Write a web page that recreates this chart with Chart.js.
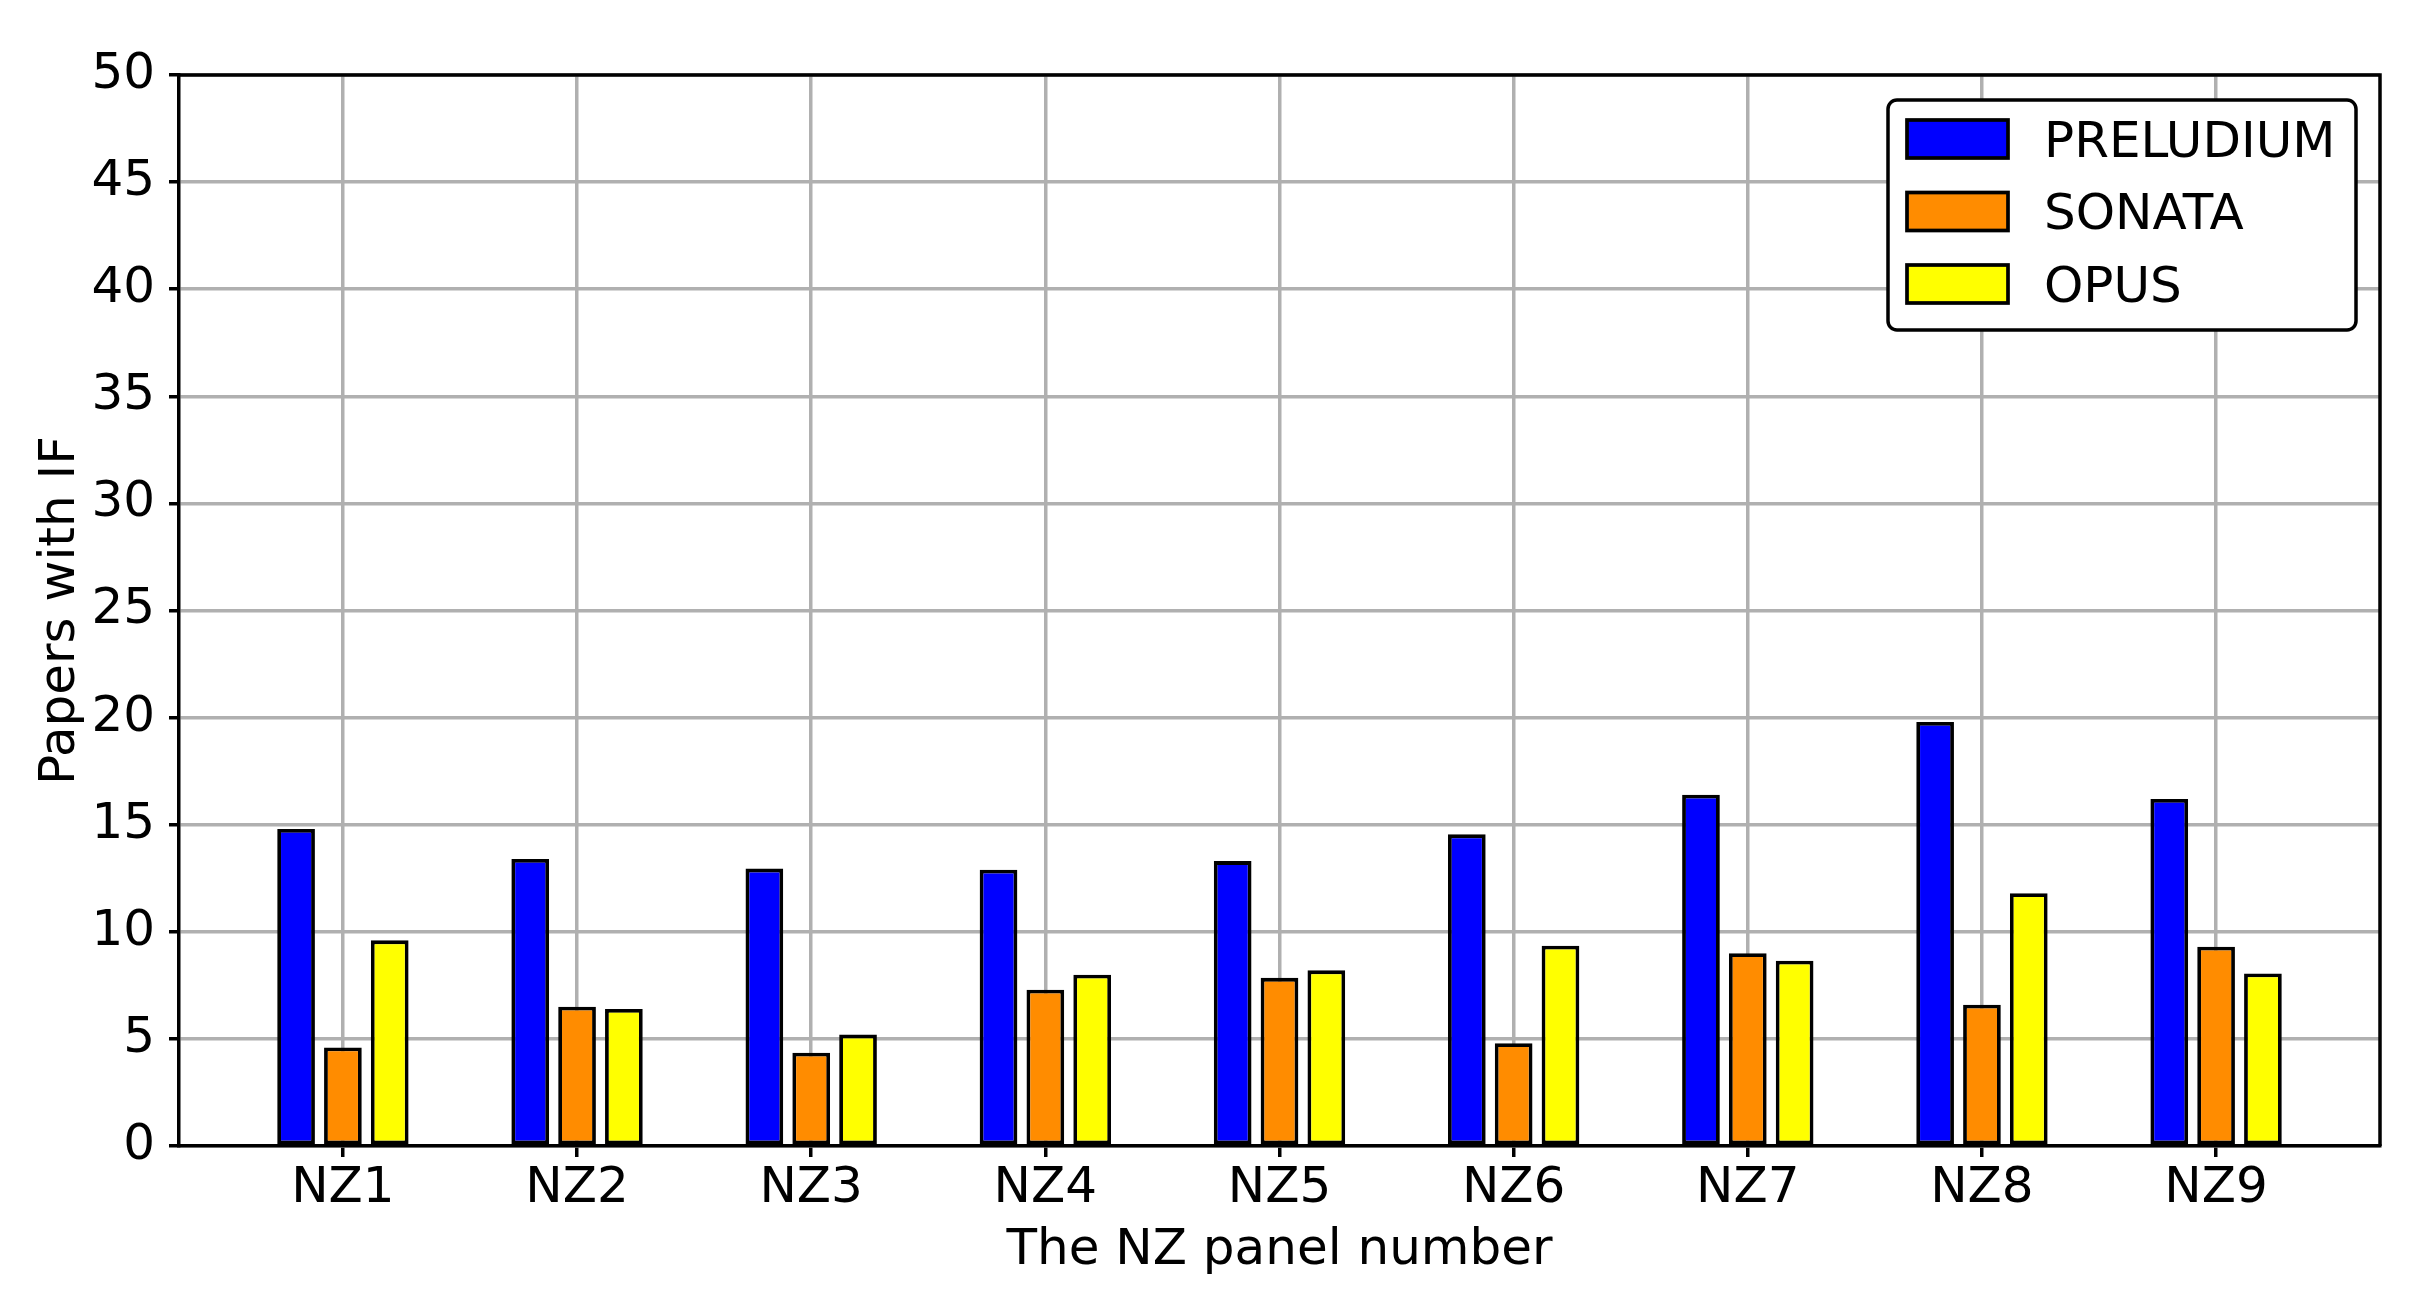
<!DOCTYPE html>
<html>
<head>
<meta charset="utf-8">
<script src="https://cdn.jsdelivr.net/npm/chart.js"></script>
<style>
  html, body { margin: 0; padding: 0; background: #fff; }
  #wrap { width: 2428px; height: 1302px; }
</style>
</head>
<body>
<div id="wrap"><canvas id="myChart" width="2428" height="1302"></canvas></div>
<script>
// values
var categories = ['NZ1', 'NZ2', 'NZ3', 'NZ4', 'NZ5', 'NZ6', 'NZ7', 'NZ8', 'NZ9'];
var preludium = [14.8, 13.4, 12.95, 12.9, 13.3, 14.55, 16.4, 19.8, 16.2];
var sonata = [4.6, 6.5, 4.35, 7.3, 7.85, 4.8, 9.0, 6.6, 9.3];
var opus = [9.6, 6.4, 5.2, 8.0, 8.2, 9.35, 8.65, 11.8, 8.05];
var yTicks = [0, 5, 10, 15, 20, 25, 30, 35, 40, 45, 50];

function toPoints(arr) {
  return arr.map(function (v, i) { return { x: i, y: v }; });
}

Chart.defaults.font.family = '"DejaVu Sans", sans-serif';
Chart.defaults.font.size = 50;
Chart.defaults.color = '#000';

// top + right spines and the boxed legend
var framePlugin = {
  id: 'frame',
  afterDraw: function (chart) {
    var ctx = chart.ctx;
    var a = chart.chartArea;
    ctx.save();
    ctx.strokeStyle = '#000';
    ctx.lineWidth = 3.5;
    ctx.beginPath();
    ctx.moveTo(a.left, a.top);
    ctx.lineTo(a.right, a.top);
    ctx.lineTo(a.right, a.bottom);
    ctx.stroke();

    // legend
    var w = 468, h = 230;
    var x0 = a.right - 24 - w, y0 = a.top + 25;
    ctx.beginPath();
    ctx.roundRect(x0, y0, w, h, 9);
    ctx.fillStyle = '#fff';
    ctx.fill();
    ctx.lineWidth = 3.5;
    ctx.stroke();
    ctx.font = '50px "DejaVu Sans"';
    ctx.textBaseline = 'middle';
    ctx.textAlign = 'left';
    chart.data.datasets.forEach(function (ds, i) {
      var cy = y0 + 39 + i * 72.5;
      ctx.fillStyle = ds.backgroundColor;
      ctx.fillRect(x0 + 19, cy - 19, 101, 38);
      ctx.strokeStyle = '#000';
      ctx.lineWidth = 3.7;
      ctx.strokeRect(x0 + 19, cy - 19, 101, 38);
      ctx.fillStyle = '#000';
      ctx.fillText(ds.label, x0 + 156, cy + 5);
    });
    ctx.restore();
  }
};

var barStyle = {
  borderColor: '#000',
  borderWidth: 3.8,
  borderSkipped: false,
  categoryPercentage: 0.6,
  barPercentage: 0.805
};

var ctx = document.getElementById('myChart').getContext('2d');
var myChart = new Chart(ctx, {
  type: 'bar',
  data: {
    datasets: [
      Object.assign({ label: 'PRELUDIUM', data: toPoints(preludium), backgroundColor: '#0000ff' }, barStyle),
      Object.assign({ label: 'SONATA', data: toPoints(sonata), backgroundColor: '#ff8c00' }, barStyle),
      Object.assign({ label: 'OPUS', data: toPoints(opus), backgroundColor: '#ffff00' }, barStyle)
    ]
  },
  options: {
    responsive: false,
    animation: false,
    devicePixelRatio: 1,
    layout: { padding: { top: 75, right: 48, bottom: 0, left: 0 } },
    plugins: {
      legend: { display: false },
      tooltip: { enabled: false }
    },
    scales: {
      x: {
        type: 'linear',
        min: -0.7,
        max: 8.7,
        offset: false,
        z: 1,
        afterBuildTicks: function (axis) {
          axis.ticks = categories.map(function (c, i) { return { value: i }; });
        },
        afterFit: function (axis) { axis.height = 156; },
        ticks: {
          padding: 2,
          maxRotation: 0,
          autoSkip: false,
          callback: function (v) { return categories[v]; }
        },
        grid: { offset: false, color: '#b0b0b0', lineWidth: 3.5, tickColor: '#000', tickWidth: 3.5, tickLength: 11 },
        border: { color: '#000', width: 3.5 },
        title: { display: true, text: 'The NZ panel number', padding: { top: 0, bottom: 21 } }
      },
      y: {
        min: 0,
        max: 50,
        z: 1,
        afterBuildTicks: function (axis) {
          axis.ticks = yTicks.map(function (v) { return { value: v }; });
        },
        afterFit: function (axis) { axis.width = 179; },
        ticks: { padding: 14 },
        grid: { color: '#b0b0b0', lineWidth: 3.5, tickColor: '#000', tickWidth: 3.5, tickLength: 10 },
        border: { color: '#000', width: 3.5 },
        title: { display: true, text: 'Papers with IF', padding: { top: 31, bottom: 0 } }
      }
    }
  },
  plugins: [framePlugin]
});
</script>
</body>
</html>
